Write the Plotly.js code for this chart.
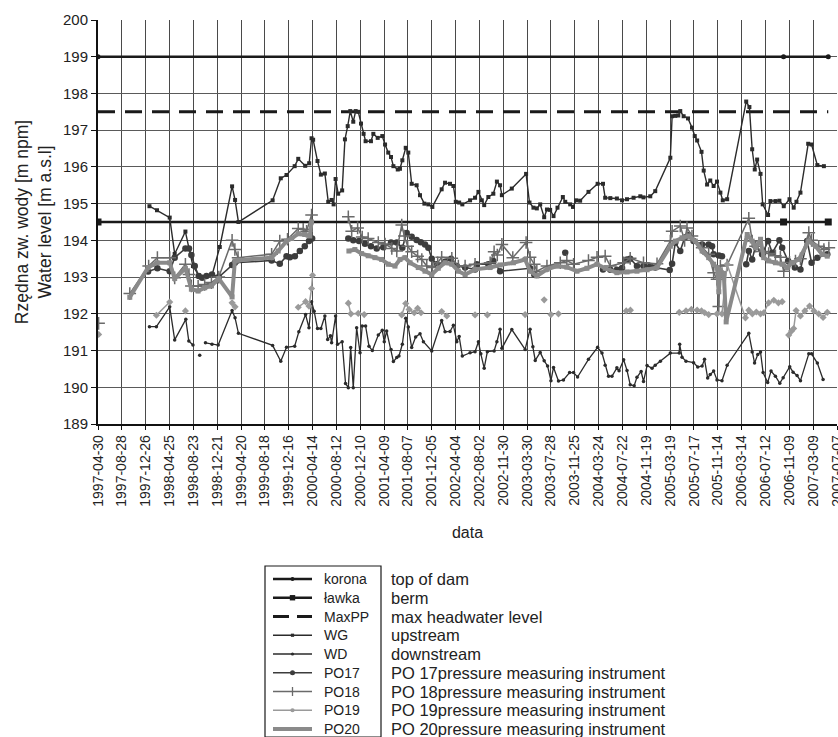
<!DOCTYPE html>
<html><head><meta charset="utf-8">
<script src="https://cdn.plot.ly/plotly-3.0.1.min.js"></script>
<style>html,body{margin:0;padding:0;background:#fff}#chart{width:838px;height:737px}</style>
</head><body><div id="chart"></div>
<script>
const FONT = 'Liberation Sans, Arial, Helvetica, sans-serif';

const tickDates = ['1997-04-30','1997-08-28','1997-12-26','1998-04-25','1998-08-23','1998-12-21','1999-04-20','1999-08-18','1999-12-16','2000-04-14','2000-08-12','2000-12-10','2001-04-09','2001-08-07','2001-12-05','2002-04-04','2002-08-02','2002-11-30','2003-03-30','2003-07-28','2003-11-25','2004-03-24','2004-07-22','2004-11-19','2005-03-19','2005-07-17','2005-11-14','2006-03-14','2006-07-12','2006-11-09','2007-03-09','2007-07-07'];
const yTicks = [189,190,191,192,193,194,195,196,197,198,199,200];

const korona = [['1997-04-30',199],['2006-10-11',199],['2007-05-24',199]];
const lawka = [['1997-04-30',194.5],['2006-10-11',194.5],['2007-05-24',194.5]];
const maxPP = [['1997-04-30',197.5],['2007-05-24',197.5]];

const wg = [['1998-01-14',194.93],['1998-02-21',194.82],['1998-04-26',194.62],['1998-05-21',193.63],['1998-07-14',194.24],['1998-08-01',193.78],['1998-08-21',193.3],['1998-09-19',193.05],['1998-10-19',193.0],['1998-11-25',193.05],['1999-01-03',193.82],['1999-03-06',195.47],['1999-03-21',195.1],['1999-04-07',194.5],['1999-09-26',195.09],['1999-11-06',195.69],['1999-12-05',195.78],['2000-01-15',196.02],['2000-02-02',196.22],['2000-03-08',196.03],['2000-03-28',196.1],['2000-04-09',196.78],['2000-04-17',196.74],['2000-05-09',196.16],['2000-05-26',195.79],['2000-06-15',195.82],['2000-07-02',195.05],['2000-07-19',195.1],['2000-07-29',194.98],['2000-08-08',195.67],['2000-08-21',195.27],['2000-09-10',195.36],['2000-09-24',196.75],['2000-10-08',197.11],['2000-10-21',197.52],['2000-11-05',197.23],['2000-11-17',197.52],['2000-11-30',197.5],['2000-12-14',197.18],['2000-12-27',196.9],['2001-01-06',196.7],['2001-02-02',196.7],['2001-02-14',196.9],['2001-03-08',196.79],['2001-03-31',196.84],['2001-04-14',196.61],['2001-04-30',196.39],['2001-05-14',196.27],['2001-05-26',196.02],['2001-06-17',195.93],['2001-06-28',195.95],['2001-07-10',196.18],['2001-07-27',196.52],['2001-08-09',196.39],['2001-08-26',195.54],['2001-09-20',195.5],['2001-10-07',195.23],['2001-10-29',195.0],['2001-11-18',194.98],['2001-12-08',194.91],['2002-01-24',195.39],['2002-02-10',195.57],['2002-03-07',195.54],['2002-03-24',195.48],['2002-04-05',195.05],['2002-04-22',195.03],['2002-05-08',194.98],['2002-06-16',195.09],['2002-07-11',195.16],['2002-07-28',195.32],['2002-08-14',195.09],['2002-08-26',194.96],['2002-09-16',195.18],['2002-10-11',195.27],['2002-10-29',195.6],['2002-11-14',195.5],['2002-11-23',195.23],['2003-01-12',195.41],['2003-03-25',195.81],['2003-04-11',195.03],['2003-05-01',194.89],['2003-05-18',194.87],['2003-06-04',194.98],['2003-06-24',194.63],['2003-07-08',194.84],['2003-07-24',194.83],['2003-08-10',194.66],['2003-08-30',194.89],['2003-09-26',195.18],['2003-10-08',195.05],['2003-11-02',194.98],['2003-11-16',194.91],['2003-12-02',195.09],['2003-12-22',195.08],['2004-02-02',195.32],['2004-03-19',195.54],['2004-04-15',195.54],['2004-04-26',195.16],['2004-05-22',195.15],['2004-06-24',195.14],['2004-07-20',195.09],['2004-08-14',195.12],['2004-09-16',195.16],['2004-10-20',195.2],['2004-11-05',195.17],['2004-12-09',195.2],['2005-01-03',195.34],['2005-03-20',196.25],['2005-03-29',197.38],['2005-04-14',197.39],['2005-04-29',197.4],['2005-05-09',197.52],['2005-05-26',197.38],['2005-06-17',197.32],['2005-07-07',197.07],['2005-07-21',196.84],['2005-08-02',196.72],['2005-08-24',196.41],['2005-09-04',195.9],['2005-09-21',195.52],['2005-10-07',195.63],['2005-10-24',195.48],['2005-11-10',195.6],['2005-11-27',195.3],['2005-12-09',195.09],['2005-12-31',195.12],['2006-04-06',197.78],['2006-04-22',197.63],['2006-05-06',196.48],['2006-05-19',195.93],['2006-05-31',196.2],['2006-06-17',195.81],['2006-06-28',194.98],['2006-07-25',194.69],['2006-08-06',195.07],['2006-08-31',195.07],['2006-09-20',195.08],['2006-10-12',194.93],['2006-11-10',195.12],['2006-12-01',194.89],['2006-12-15',195.05],['2007-01-04',195.3],['2007-02-12',196.63],['2007-03-01',196.61],['2007-03-30',196.05],['2007-05-02',196.02]];

const wd = [['1998-01-14',191.65],['1998-02-18',191.65],['1998-04-26',192.19],['1998-05-21',191.29],['1998-07-16',191.85],['1998-07-31',191.26],['1998-08-21',191.15],['1998-09-05',null],['1998-09-24',190.87],['1998-10-10',null],['1998-10-23',191.21],['1998-11-25',191.17],['1998-12-26',191.15],['1999-03-06',192.09],['1999-03-21',191.89],['1999-04-07',191.47],['1999-09-26',191.14],['1999-11-06',190.71],['1999-12-05',191.09],['2000-01-15',191.12],['2000-02-05',191.51],['2000-03-10',191.98],['2000-03-27',191.62],['2000-04-09',192.33],['2000-04-22',192.07],['2000-05-09',191.6],['2000-05-26',191.6],['2000-06-15',191.94],['2000-06-29',191.3],['2000-07-13',191.4],['2000-07-19',191.21],['2000-08-08',191.94],['2000-08-18',191.17],['2000-09-10',191.24],['2000-09-27',190.1],['2000-10-11',189.99],['2000-10-23',191.08],['2000-11-05',189.99],['2000-11-22',191.62],['2000-12-09',190.94],['2000-12-20',191.67],['2001-01-06',191.67],['2001-01-23',191.12],['2001-02-09',191.0],['2001-03-11',191.42],['2001-03-31',191.55],['2001-04-10',191.24],['2001-04-22',191.53],['2001-05-14',191.03],['2001-05-26',190.7],['2001-06-12',190.81],['2001-06-23',190.85],['2001-07-10',191.17],['2001-07-27',191.88],['2001-08-09',191.64],['2001-08-26',191.08],['2001-09-15',191.37],['2001-10-07',191.46],['2001-10-24',191.24],['2001-12-05',190.99],['2002-01-24',191.82],['2002-02-10',191.51],['2002-03-07',191.52],['2002-03-24',191.69],['2002-04-10',191.24],['2002-04-22',191.38],['2002-05-08',190.85],['2002-06-16',190.94],['2002-07-11',190.97],['2002-07-28',191.24],['2002-08-09',190.91],['2002-08-26',190.52],['2002-09-11',190.97],['2002-10-15',190.99],['2002-10-29',191.24],['2002-11-14',191.58],['2002-11-23',191.06],['2003-01-12',191.57],['2003-03-20',191.03],['2003-04-14',191.58],['2003-04-28',191.1],['2003-05-10',190.73],['2003-06-04',190.95],['2003-06-24',190.72],['2003-07-11',190.58],['2003-07-28',190.18],['2003-08-10',190.54],['2003-09-04',190.17],['2003-09-29',190.2],['2003-10-30',190.4],['2003-11-19',190.4],['2003-12-09',190.28],['2004-02-02',190.76],['2004-03-19',191.09],['2004-04-10',190.93],['2004-04-26',190.6],['2004-05-13',190.3],['2004-05-30',190.3],['2004-06-24',190.53],['2004-07-05',190.45],['2004-07-28',190.75],['2004-08-14',190.46],['2004-08-30',190.07],['2004-09-19',190.04],['2004-10-03',190.27],['2004-10-24',190.43],['2004-11-05',190.16],['2004-11-23',190.59],['2004-12-18',190.52],['2005-01-03',190.6],['2005-01-29',190.71],['2005-03-20',190.93],['2005-05-04',190.93],['2005-05-06',191.17],['2005-05-18',190.82],['2005-06-07',190.71],['2005-07-15',190.67],['2005-08-05',190.55],['2005-08-27',190.58],['2005-09-08',190.76],['2005-09-24',190.25],['2005-10-07',190.35],['2005-10-24',190.44],['2005-11-10',190.2],['2005-12-05',190.18],['2005-12-31',190.6],['2006-04-19',191.47],['2006-05-06',190.96],['2006-05-18',190.66],['2006-06-03',190.89],['2006-06-17',190.96],['2006-06-30',190.4],['2006-07-23',190.13],['2006-08-09',190.44],['2006-08-31',190.3],['2006-09-22',190.11],['2006-10-09',190.26],['2006-11-11',190.56],['2006-11-28',190.41],['2006-12-18',190.32],['2007-01-04',190.18],['2007-02-15',190.91],['2007-03-01',190.91],['2007-03-30',190.66],['2007-04-28',190.21]];

const po17 = [['1998-01-07',193.15],['1998-02-23',193.24],['1998-04-26',193.16],['1998-05-21',193.53],['1998-07-14',193.78],['1998-08-01',193.78],['1998-08-13',193.6],['1998-08-30',193.3],['1998-09-19',193.03],['1998-10-06',192.98],['1998-10-28',193.03],['1998-11-25',193.07],['1998-12-29',193.0],['1999-03-06',193.33],['1999-03-20',193.39],['1999-09-21',193.45],['1999-11-01',193.36],['1999-12-05',193.57],['1999-12-22',193.54],['2000-01-16',193.57],['2000-02-10',193.71],['2000-03-06',193.84],['2000-03-27',193.98],['2000-04-12',194.05],['2000-07-15',null],['2000-10-11',194.05],['2000-11-05',194.0],['2000-12-04',193.98],['2001-01-03',193.91],['2001-02-02',193.84],['2001-03-03',193.78],['2001-04-05',193.81],['2001-05-14',193.94],['2001-06-12',193.94],['2001-07-10',193.8],['2001-08-01',194.2],['2001-08-26',194.1],['2001-09-20',194.01],['2001-10-11',193.95],['2001-11-01',193.89],['2001-11-18',193.8],['2001-12-05',193.5],['2001-12-30',193.35],['2002-02-10',193.42],['2002-03-12',193.5],['2002-04-10',193.3],['2002-05-22',193.26],['2002-07-11',193.21],['2002-07-20',193.35],['2002-09-16',193.35],['2002-10-11',193.44],['2002-11-14',193.16],['2003-04-14',193.24],['2003-05-05',193.07],['2003-07-15',null],['2003-10-08',193.66],['2004-01-15',null],['2004-04-15',193.21],['2004-05-22',193.2],['2004-06-24',193.2],['2004-07-20',193.25],['2004-08-14',193.48],['2004-08-30',193.5],['2004-10-03',193.3],['2004-11-05',193.3],['2004-12-09',193.3],['2005-01-03',193.26],['2005-03-17',193.19],['2005-03-29',193.36],['2005-04-14',193.94],['2005-05-09',193.71],['2005-05-31',194.07],['2005-06-20',194.14],['2005-07-15',193.98],['2005-08-27',193.89],['2005-09-29',193.89],['2005-10-16',193.84],['2005-10-24',193.62],['2005-11-19',193.59],['2005-12-05',193.57],['2006-02-01',null],['2006-04-06',193.35],['2006-04-19',193.71],['2006-05-06',193.48],['2006-05-23',193.84],['2006-06-25',193.62],['2006-07-25',193.98],['2006-08-15',193.66],['2006-09-20',194.0],['2006-10-04',193.8],['2006-11-03',193.44],['2006-12-07',193.26],['2007-01-04',193.21],['2007-02-07',193.98],['2007-03-01',193.39],['2007-03-30',193.53],['2007-05-19',193.62]];

const po18 = [['1997-05-03',191.74],['1997-06-15',null],['1997-10-07',192.55],['1998-01-10',193.3],['1998-02-23',193.53],['1998-04-26',193.53],['1998-05-21',192.98],['1998-07-14',193.35],['1998-08-01',193.07],['1998-08-13',192.76],['1998-09-16',192.75],['1998-10-19',192.8],['1998-11-22',192.85],['1998-12-29',193.0],['1999-03-06',194.0],['1999-03-20',193.75],['1999-04-05',193.53],['1999-09-21',193.62],['1999-11-01',193.98],['1999-12-10',194.03],['2000-02-02',194.32],['2000-02-27',194.3],['2000-03-15',194.25],['2000-04-09',194.69],['2000-07-15',null],['2000-10-11',194.64],['2000-10-28',194.25],['2000-11-27',194.34],['2000-12-20',194.09],['2001-01-19',194.05],['2001-03-11',193.94],['2001-04-14',193.9],['2001-05-18',193.78],['2001-06-12',193.71],['2001-07-07',194.42],['2001-07-20',194.12],['2001-08-06',193.84],['2001-08-26',193.69],['2001-09-25',193.57],['2001-10-16',193.48],['2001-11-10',193.3],['2001-12-08',193.26],['2002-01-04',193.39],['2002-01-24',193.54],['2002-03-16',193.51],['2002-04-18',193.3],['2002-05-22',193.3],['2002-07-11',193.35],['2002-09-25',193.39],['2002-10-15',193.69],['2002-10-31',193.6],['2002-11-23',193.89],['2003-01-17',193.53],['2003-03-25',193.94],['2003-04-14',193.54],['2003-05-05',193.35],['2003-05-18',193.16],['2003-07-08',193.3],['2003-09-13',193.39],['2003-10-16',193.45],['2003-11-19',193.35],['2004-02-02',193.45],['2004-03-16',193.54],['2004-04-26',193.57],['2004-05-22',193.3],['2004-07-28',193.39],['2004-08-30',193.51],['2004-11-05',193.39],['2005-01-12',193.36],['2005-03-20',193.98],['2005-03-29',194.25],['2005-05-09',194.39],['2005-05-31',194.0],['2005-06-12',194.34],['2005-07-07',194.12],['2005-08-27',193.8],['2005-09-29',193.62],['2005-10-24',193.12],['2005-11-10',192.94],['2005-11-19',192.2],['2005-11-27',193.3],['2005-12-31',193.33],['2006-04-19',194.6],['2006-05-06',193.98],['2006-05-23',193.84],['2006-06-25',193.7],['2006-07-28',193.64],['2006-08-31',193.58],['2006-09-25',193.54],['2006-10-12',193.16],['2006-11-10',193.4],['2006-12-10',193.44],['2007-01-04',193.5],['2007-02-15',194.21],['2007-03-01',194.0],['2007-04-06',193.84],['2007-05-02',193.75],['2007-05-27',193.8]];

const po19 = [['1997-05-03',191.44],['1997-09-01',null],['1998-02-18',191.96],['1998-04-26',192.32],['1998-06-15',null],['1998-07-14',192.08],['1998-10-01',null],['1999-03-06',192.3],['1999-03-21',192.19],['1999-09-01',null],['2000-02-02',192.18],['2000-03-10',192.33],['2000-03-27',192.21],['2000-04-09',192.69],['2000-04-14',193.05],['2000-07-15',null],['2000-10-11',192.29],['2000-10-24',192.0],['2000-11-30',192.01],['2000-12-30',191.98],['2001-04-01',null],['2001-07-07',191.97],['2001-07-27',192.28],['2001-08-13',192.12],['2001-09-08',192.03],['2001-09-25',192.15],['2001-10-12',192.03],['2001-12-01',null],['2002-01-24',192.06],['2002-02-19',191.94],['2002-05-01',null],['2002-07-11',191.97],['2002-08-10',null],['2002-09-11',191.97],['2002-12-01',null],['2003-03-20',191.98],['2003-05-01',null],['2003-06-24',192.38],['2003-07-10',null],['2003-07-28',191.98],['2003-08-15',null],['2003-09-04',192.0],['2004-01-01',null],['2004-08-10',192.08],['2004-08-31',192.1],['2004-12-01',null],['2005-05-04',192.04],['2005-06-07',192.08],['2005-07-04',192.12],['2005-08-02',192.1],['2005-08-24',192.08],['2005-09-09',192.03],['2005-09-29',191.98],['2005-11-10',192.0],['2005-12-05',192.0],['2005-12-31',193.35],['2006-04-02',191.89],['2006-04-19',192.1],['2006-05-07',192.0],['2006-05-27',192.05],['2006-06-17',192.0],['2006-07-03',192.03],['2006-07-28',192.3],['2006-08-23',192.37],['2006-09-15',192.3],['2006-10-04',192.33],['2006-10-20',null],['2006-11-06',191.42],['2006-11-20',191.53],['2006-12-01',191.6],['2006-12-13',192.09],['2007-01-04',191.94],['2007-01-26',192.08],['2007-02-19',192.21],['2007-03-13',192.08],['2007-04-06',192.0],['2007-04-28',191.9],['2007-05-19',192.04]];

const po20 = [['1997-10-07',192.45],['1998-01-07',193.26],['1998-02-21',193.39],['1998-04-26',193.39],['1998-05-21',192.96],['1998-07-14',193.24],['1998-08-13',192.67],['1998-09-16',192.62],['1998-10-19',192.71],['1998-11-22',192.76],['1998-12-29',192.96],['1999-03-06',192.46],['1999-03-20',193.44],['1999-04-05',193.46],['1999-09-21',193.53],['1999-10-24',193.71],['1999-12-05',193.98],['1999-12-31',194.05],['2000-02-02',194.18],['2000-03-06',194.16],['2000-03-31',194.12],['2000-04-09',194.5],['2000-07-15',null],['2000-10-14',193.71],['2000-11-13',193.75],['2000-12-17',193.64],['2001-01-19',193.58],['2001-02-22',193.53],['2001-03-28',193.48],['2001-04-30',193.35],['2001-06-03',193.3],['2001-06-28',193.48],['2001-07-23',193.53],['2001-08-18',193.39],['2001-09-28',193.26],['2001-11-01',193.16],['2001-12-05',193.07],['2002-01-07',193.24],['2002-02-10',193.39],['2002-03-16',193.35],['2002-04-18',193.16],['2002-05-22',193.07],['2002-07-11',193.21],['2002-09-25',193.26],['2002-11-14',193.33],['2003-01-20',193.39],['2003-03-20',193.48],['2003-04-14',193.16],['2003-05-18',193.03],['2003-07-08',193.21],['2003-08-27',193.3],['2003-10-16',193.27],['2003-12-06',193.16],['2004-01-25',193.24],['2004-03-16',193.35],['2004-04-26',193.24],['2004-06-24',193.12],['2004-08-14',193.14],['2004-10-03',193.16],['2004-11-23',193.2],['2005-01-12',193.26],['2005-03-20',193.84],['2005-04-14',193.98],['2005-05-18',194.07],['2005-06-20',194.12],['2005-07-24',193.98],['2005-08-27',193.71],['2005-09-29',193.53],['2005-10-24',193.35],['2005-11-10',193.25],['2005-11-19',192.6],['2005-11-27',193.2],['2005-12-14',193.1],['2005-12-26',191.78],['2006-04-11',194.16],['2006-05-06',193.98],['2006-05-23',193.8],['2006-06-17',194.03],['2006-07-03',193.53],['2006-07-28',193.44],['2006-08-31',193.39],['2006-10-04',193.35],['2006-10-30',193.26],['2006-11-23',193.39],['2006-12-27',193.48],['2007-02-15',193.98],['2007-03-21',193.84],['2007-04-23',193.62],['2007-05-19',193.57]];

const seriesNames = ['korona','ławka','MaxPP','WG','WD','PO17','PO18','PO19','PO20'];
const seriesNotes = ['top of dam','berm','max headwater level','upstream','downstream','PO 17pressure measuring instrument','PO 18pressure measuring instrument','PO 19pressure measuring instrument','PO 20pressure measuring instrument'];
const seriesData = [korona, lawka, maxPP, wg, wd, po17, po18, po19, po20];

const STYLE = {
  'korona': {color:'#1a1a1a', width:2.6, symbol:'circle', size:5},
  'ławka':  {color:'#1a1a1a', width:2.6, symbol:'square', size:7},
  'MaxPP':  {color:'#1a1a1a', width:3, dash:'17px,10px', symbol:null},
  'WG':     {color:'#2b2b2b', width:1.4, symbol:'square', size:4},
  'WD':     {color:'#2b2b2b', width:1.3, symbol:'circle', size:3.5},
  'PO17':   {color:'#3c3c3c', width:1.6, symbol:'circle', size:6.5},
  'PO18':   {color:'#6a6a6a', width:1.5, symbol:'cross-thin-open', size:9},
  'PO19':   {color:'#9a9a9a', width:1.5, symbol:'diamond', size:5.5},
  'PO20':   {color:'#8a8a8a', width:4, symbol:'square', size:5}
};

const traces = seriesNames.map((name, i) => {
  const s = STYLE[name];
  const d = seriesData[i];
  const t = {
    type:'scatter', name: name,
    x: d.map(p => p[0]), y: d.map(p => p[1]),
    mode: s.symbol ? 'lines+markers' : 'lines',
    line: {color: s.color, width: s.width, dash: s.dash || 'solid'},
    connectgaps: false, showlegend: false, hoverinfo: 'x+y+name'
  };
  if (s.symbol) {
    t.marker = {symbol: s.symbol, size: s.size, color: s.color,
      line: {color: s.color, width: s.symbol === 'cross-thin-open' ? 1.5 : 0}};
  }
  return t;
});

// --- legend drawn as a boxed table below the chart (pixel layout -> paper coords)
const W = 838, H = 737, M = {l:98, r:1, t:20, b:313};
const PW = W - M.l - M.r, PH = H - M.t - M.b;
const X = px => (px - M.l) / PW;
const Y = py => 1 - (py - M.t) / PH;
const LEG = {left:265, right:381, top:566, bottom:737, row0:579, gap:18.75, l0:273, l1:312, mx:292.5, label:322, note:389};

const shapes = [{type:'rect', xref:'paper', yref:'paper', x0:X(LEG.left), x1:X(LEG.right), y0:Y(LEG.top), y1:Y(LEG.bottom), line:{color:'#1a1a1a', width:1.2}, fillcolor:'rgba(0,0,0,0)'}];
const annotations = [];
seriesNames.forEach((name, i) => {
  const s = STYLE[name];
  const cy = LEG.row0 + i * LEG.gap;
  shapes.push({type:'line', xref:'paper', yref:'paper', x0:X(LEG.l0), x1:X(LEG.l1), y0:Y(cy), y1:Y(cy),
    line:{color:s.color, width:s.width, dash: name === 'MaxPP' ? '16px,8px' : 'solid'}});
  if (s.symbol && name !== 'PO20') {
    const r = Math.max(1.6, s.size / 2.6);
    if (s.symbol === 'square') {
      shapes.push({type:'rect', xref:'paper', yref:'paper', x0:X(LEG.mx - r), x1:X(LEG.mx + r), y0:Y(cy - r), y1:Y(cy + r), line:{width:0}, fillcolor:s.color});
    } else if (s.symbol === 'cross-thin-open') {
      shapes.push({type:'line', xref:'paper', yref:'paper', x0:X(LEG.mx), x1:X(LEG.mx), y0:Y(cy - 4.5), y1:Y(cy + 4.5), line:{color:s.color, width:1.3}});
    } else {
      shapes.push({type:'circle', xref:'paper', yref:'paper', x0:X(LEG.mx - r), x1:X(LEG.mx + r), y0:Y(cy - r), y1:Y(cy + r), line:{width:0}, fillcolor:s.color});
    }
  }
  annotations.push({xref:'paper', yref:'paper', x:X(LEG.label), y:Y(cy), xanchor:'left', yanchor:'middle', showarrow:false,
    text:name, font:{family:FONT, size:14, color:'#222'}});
  annotations.push({xref:'paper', yref:'paper', x:X(LEG.note), y:Y(cy), xanchor:'left', yanchor:'middle', showarrow:false,
    text:seriesNotes[i], font:{family:FONT, size:16.5, color:'#222'}});
});

const layout = {
  width: W, height: H, margin: M,
  paper_bgcolor:'#fff', plot_bgcolor:'#fff',
  font: {family: FONT, color:'#222'},
  showlegend: false,
  xaxis: {
    type:'date', range:['1997-04-30','2007-07-07'],
    tickmode:'array', tickvals: tickDates, ticktext: tickDates,
    tickangle:-90, tickfont:{family:FONT, size:14, color:'#222'},
    ticklabeloverflow:'allow',
    showgrid:true, gridcolor:'#4a4a4a', gridwidth:1,
    showline:true, linecolor:'#111', linewidth:1.5,
    ticks:'outside', ticklen:4, tickcolor:'#111', zeroline:false,
    title:{text:'data', font:{family:FONT, size:16, color:'#222'}, standoff:21}
  },
  yaxis: {
    range:[189,200], tickmode:'array', tickvals:yTicks, ticktext:yTicks.map(String),
    tickfont:{family:FONT, size:15, color:'#222'},
    showgrid:true, gridcolor:'#5a5a5a', gridwidth:1,
    showline:true, linecolor:'#111', linewidth:2,
    ticks:'outside', ticklen:5, tickcolor:'#111', zeroline:false,
    title:{text:'Rzędna zw. wody [m npm]<br>Water level [m a.s.l]', font:{family:FONT, size:17.5, color:'#222'}, standoff:7}
  },
  shapes: shapes,
  annotations: annotations
};

Plotly.newPlot('chart', traces, layout, {staticPlot:true, displayModeBar:false});
</script>
</body></html>
